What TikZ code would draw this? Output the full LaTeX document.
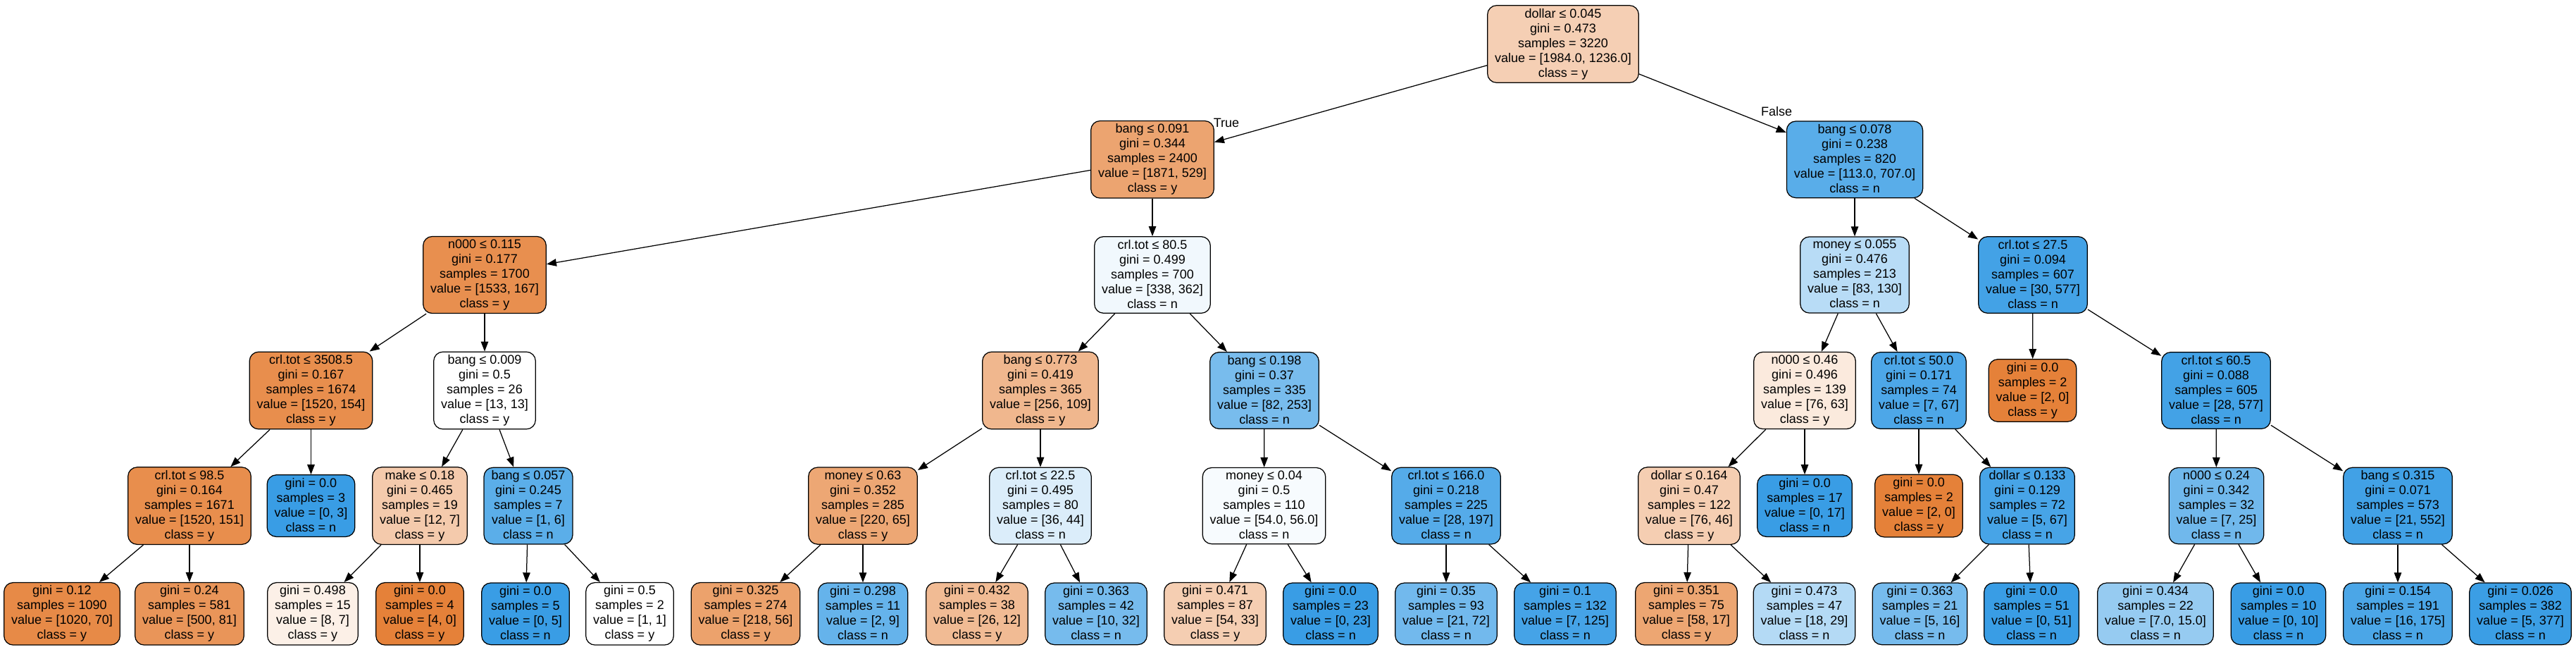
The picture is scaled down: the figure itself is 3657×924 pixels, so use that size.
\documentclass[tikz,border=0pt]{standalone}
\usepackage{fontspec}
\setmainfont{Liberation Sans}
\usetikzlibrary{arrows.meta}
\definecolor{classy}{RGB}{229,129,57}
\definecolor{classn}{RGB}{57,157,229}
\newcommand\linestrut{\rule[-2.8pt]{0pt}{21pt}}

\begin{document}
\begin{tikzpicture}[
    x=1pt, y=-1pt,
    >={Triangle[length=14pt,width=10.5pt]},
    every node/.style={font=\fontsize{18}{21}\selectfont},
    treebox/.style={draw, line width=1.25pt, rounded corners=13pt, align=center,
        inner xsep=10.5pt, inner ysep=4.4pt,
        execute at begin node=\linestrut, execute at end node=\linestrut},
    ynode/.style={treebox, fill=classy!#1!white},
    nnode/.style={treebox, fill=classn!#1!white},
    branch/.style={->, line width=1.25pt}
]
\useasboundingbox (0,0) rectangle (3657,924);

\node[ynode=38] (root) at (2219,62.5) {dollar ≤ 0.045\\gini = 0.473\\samples = 3220\\value = [1984.0, 1236.0]\\class = y};

\node[ynode=72] (L) at (1636,226.3) {bang ≤ 0.091\\gini = 0.344\\samples = 2400\\value = [1871, 529]\\class = y};
\node[nnode=84] (R) at (2633,226.3) {bang ≤ 0.078\\gini = 0.238\\samples = 820\\value = [113.0, 707.0]\\class = n};

\node[ynode=89] (LL) at (688,390) {n000 ≤ 0.115\\gini = 0.177\\samples = 1700\\value = [1533, 167]\\class = y};
\node[nnode=7] (LR) at (1636,390) {crl.tot ≤ 80.5\\gini = 0.499\\samples = 700\\value = [338, 362]\\class = n};
\node[nnode=36] (RL) at (2633,390) {money ≤ 0.055\\gini = 0.476\\samples = 213\\value = [83, 130]\\class = n};
\node[nnode=95] (RR) at (2886,390) {crl.tot ≤ 27.5\\gini = 0.094\\samples = 607\\value = [30, 577]\\class = n};

\node[ynode=90] (LLL) at (441.5,554) {crl.tot ≤ 3508.5\\gini = 0.167\\samples = 1674\\value = [1520, 154]\\class = y};
\node[ynode=0] (LLR) at (688,554) {bang ≤ 0.009\\gini = 0.5\\samples = 26\\value = [13, 13]\\class = y};
\node[ynode=57] (LRL) at (1477,554) {bang ≤ 0.773\\gini = 0.419\\samples = 365\\value = [256, 109]\\class = y};
\node[nnode=68] (LRR) at (1795,554) {bang ≤ 0.198\\gini = 0.37\\samples = 335\\value = [82, 253]\\class = n};
\node[ynode=17] (RLL) at (2562,554) {n000 ≤ 0.46\\gini = 0.496\\samples = 139\\value = [76, 63]\\class = y};
\node[nnode=90] (RLR) at (2724,554) {crl.tot ≤ 50.0\\gini = 0.171\\samples = 74\\value = [7, 67]\\class = n};
\node[ynode=100] (RRL) at (2885.5,554) {gini = 0.0\\samples = 2\\value = [2, 0]\\class = y};
\node[nnode=95] (RRR) at (3146,554) {crl.tot ≤ 60.5\\gini = 0.088\\samples = 605\\value = [28, 577]\\class = n};

\node[ynode=90] (LLLL) at (269,717.6) {crl.tot ≤ 98.5\\gini = 0.164\\samples = 1671\\value = [1520, 151]\\class = y};
\node[nnode=100] (LLLR) at (441.5,717.6) {gini = 0.0\\samples = 3\\value = [0, 3]\\class = n};
\node[ynode=42] (LLRL) at (596,717.6) {make ≤ 0.18\\gini = 0.465\\samples = 19\\value = [12, 7]\\class = y};
\node[nnode=83] (LLRR) at (750,717.6) {bang ≤ 0.057\\gini = 0.245\\samples = 7\\value = [1, 6]\\class = n};
\node[ynode=70] (LRLL) at (1225,717.6) {money ≤ 0.63\\gini = 0.352\\samples = 285\\value = [220, 65]\\class = y};
\node[nnode=18] (LRLR) at (1477,717.6) {crl.tot ≤ 22.5\\gini = 0.495\\samples = 80\\value = [36, 44]\\class = n};
\node[nnode=4] (LRRL) at (1794.5,717.6) {money ≤ 0.04\\gini = 0.5\\samples = 110\\value = [54.0, 56.0]\\class = n};
\node[nnode=86] (LRRR) at (2053,717.6) {crl.tot ≤ 166.0\\gini = 0.218\\samples = 225\\value = [28, 197]\\class = n};
\node[ynode=39] (RLLL) at (2398,717.6) {dollar ≤ 0.164\\gini = 0.47\\samples = 122\\value = [76, 46]\\class = y};
\node[nnode=100] (RLLR) at (2562,717.6) {gini = 0.0\\samples = 17\\value = [0, 17]\\class = n};
\node[ynode=100] (RLRL) at (2724,717.6) {gini = 0.0\\samples = 2\\value = [2, 0]\\class = y};
\node[nnode=93] (RLRR) at (2878,717.6) {dollar ≤ 0.133\\gini = 0.129\\samples = 72\\value = [5, 67]\\class = n};
\node[nnode=72] (RRRL) at (3146.5,717.6) {n000 ≤ 0.24\\gini = 0.342\\samples = 32\\value = [7, 25]\\class = n};
\node[nnode=96] (RRRR) at (3404,717.6) {bang ≤ 0.315\\gini = 0.071\\samples = 573\\value = [21, 552]\\class = n};

\node[ynode=93] (LLLLL) at (88,870.8) {gini = 0.12\\samples = 1090\\value = [1020, 70]\\class = y};
\node[ynode=84] (LLLLR) at (269,870.8) {gini = 0.24\\samples = 581\\value = [500, 81]\\class = y};
\node[ynode=12] (LLRLL) at (444,870.8) {gini = 0.498\\samples = 15\\value = [8, 7]\\class = y};
\node[ynode=100] (LLRLR) at (596,870.8) {gini = 0.0\\samples = 4\\value = [4, 0]\\class = y};
\node[nnode=100] (LLRRL) at (746,870.8) {gini = 0.0\\samples = 5\\value = [0, 5]\\class = n};
\node[ynode=0] (LLRRR) at (894,870.8) {gini = 0.5\\samples = 2\\value = [1, 1]\\class = y};
\node[ynode=74] (LRLLL) at (1058.5,870.8) {gini = 0.325\\samples = 274\\value = [218, 56]\\class = y};
\node[nnode=78] (LRLLR) at (1225,870.8) {gini = 0.298\\samples = 11\\value = [2, 9]\\class = n};
\node[ynode=54] (LRLRL) at (1387,870.8) {gini = 0.432\\samples = 38\\value = [26, 12]\\class = y};
\node[nnode=69] (LRLRR) at (1556,870.8) {gini = 0.363\\samples = 42\\value = [10, 32]\\class = n};
\node[ynode=39] (LRRLL) at (1725,870.8) {gini = 0.471\\samples = 87\\value = [54, 33]\\class = y};
\node[nnode=100] (LRRLR) at (1889,870.8) {gini = 0.0\\samples = 23\\value = [0, 23]\\class = n};
\node[nnode=71] (LRRRL) at (2053,870.8) {gini = 0.35\\samples = 93\\value = [21, 72]\\class = n};
\node[nnode=94] (LRRRR) at (2222,870.8) {gini = 0.1\\samples = 132\\value = [7, 125]\\class = n};
\node[ynode=71] (RLLLL) at (2394,870.8) {gini = 0.351\\samples = 75\\value = [58, 17]\\class = y};
\node[nnode=38] (RLLLR) at (2561.5,870.8) {gini = 0.473\\samples = 47\\value = [18, 29]\\class = n};
\node[nnode=69] (RLRRL) at (2725.5,870.8) {gini = 0.363\\samples = 21\\value = [5, 16]\\class = n};
\node[nnode=100] (RLRRR) at (2884,870.8) {gini = 0.0\\samples = 51\\value = [0, 51]\\class = n};
\node[nnode=53] (RRRLL) at (3060,870.8) {gini = 0.434\\samples = 22\\value = [7.0, 15.0]\\class = n};
\node[nnode=100] (RRRLR) at (3234.5,870.8) {gini = 0.0\\samples = 10\\value = [0, 10]\\class = n};
\node[nnode=91] (RRRRL) at (3404,870.8) {gini = 0.154\\samples = 191\\value = [16, 175]\\class = n};
\node[nnode=99] (RRRRR) at (3578,870.8) {gini = 0.026\\samples = 382\\value = [5, 377]\\class = n};

\foreach \a/\b in {root/L, root/R, L/LL, L/LR, R/RL, R/RR,
    LL/LLL, LL/LLR, LR/LRL, LR/LRR, RL/RLL, RL/RLR, RR/RRL, RR/RRR,
    LLL/LLLL, LLL/LLLR, LLR/LLRL, LLR/LLRR, LRL/LRLL, LRL/LRLR, LRR/LRRL, LRR/LRRR,
    RLL/RLLL, RLL/RLLR, RLR/RLRL, RLR/RLRR, RRR/RRRL, RRR/RRRR,
    LLLL/LLLLL, LLLL/LLLLR, LLRL/LLRLL, LLRL/LLRLR, LLRR/LLRRL, LLRR/LLRRR,
    LRLL/LRLLL, LRLL/LRLLR, LRLR/LRLRL, LRLR/LRLRR, LRRL/LRRLL, LRRL/LRRLR,
    LRRR/LRRRL, LRRR/LRRRR, RLLL/RLLLL, RLLL/RLLLR, RLRR/RLRRL, RLRR/RLRRR,
    RRRL/RRRLL, RRRL/RRRLR, RRRR/RRRRL, RRRR/RRRRR}
    \draw[branch] (\a) -- (\b);

\node (truelbl) at (1741,174) {True};
\node (falselbl) at (2522,158) {False};
\end{tikzpicture}
\end{document}
